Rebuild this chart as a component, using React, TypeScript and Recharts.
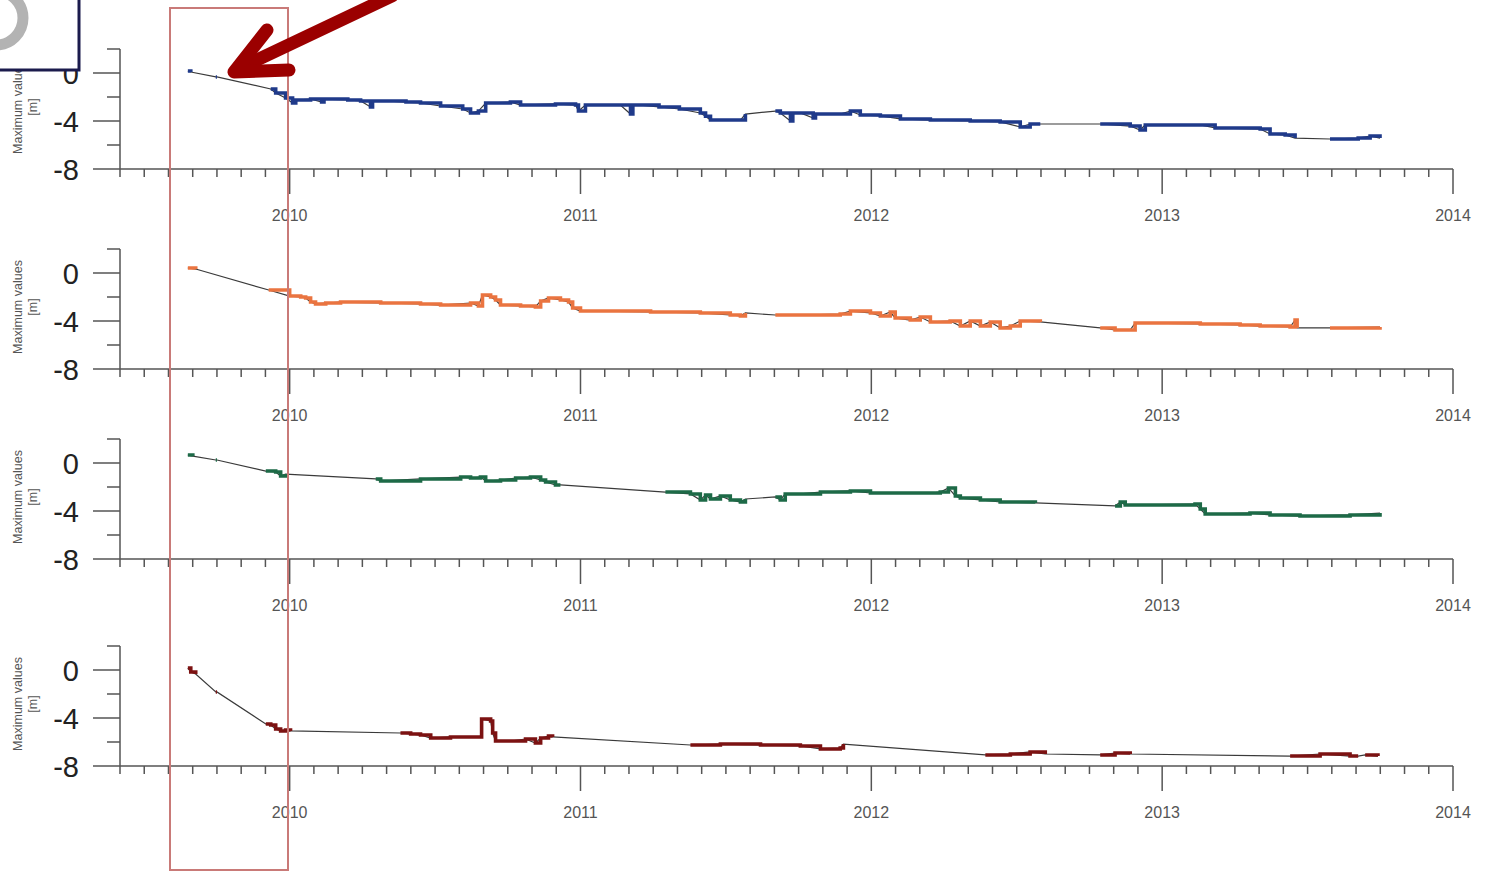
import React from 'react';
import { LineChart, Line, XAxis, YAxis } from 'recharts';

// decimal year, value [m]
const blueSegments: number[][][] = [
  [[2009.65, 0.17], [2009.66, 0.08]],
  [[2009.746, -0.33], [2009.75, -0.33]],
  [[2009.935, -1.33], [2009.952, -1.67], [2009.986, -2.08], [2010.01, -2.5], [2010.021, -2.25], [2010.072, -2.17], [2010.11, -2.42], [2010.118, -2.17], [2010.2, -2.25], [2010.244, -2.33], [2010.278, -2.83], [2010.285, -2.33], [2010.33, -2.33], [2010.4, -2.42], [2010.45, -2.5], [2010.519, -2.75], [2010.595, -3.0], [2010.622, -3.33], [2010.649, -3.17], [2010.674, -2.5], [2010.759, -2.42], [2010.794, -2.67], [2010.914, -2.58], [2010.983, -2.67], [2010.993, -3.17], [2011.017, -2.67], [2011.137, -2.67], [2011.172, -3.42], [2011.18, -2.67], [2011.206, -2.67], [2011.27, -2.83], [2011.34, -3.0], [2011.412, -3.33], [2011.43, -3.6], [2011.447, -3.92], [2011.55, -3.92], [2011.567, -3.42]],
  [[2011.67, -3.17], [2011.687, -3.33], [2011.722, -4.0], [2011.73, -3.33], [2011.756, -3.33], [2011.8, -3.75], [2011.808, -3.42], [2011.893, -3.42], [2011.928, -3.17], [2011.962, -3.5], [2012.031, -3.58], [2012.1, -3.83], [2012.203, -3.92], [2012.34, -4.0], [2012.443, -4.08], [2012.512, -4.5], [2012.546, -4.25], [2012.581, -4.25]],
  [[2012.787, -4.25], [2012.89, -4.42], [2012.924, -4.75], [2012.942, -4.33], [2013.131, -4.33], [2013.182, -4.58], [2013.337, -4.67], [2013.371, -5.08], [2013.423, -5.17], [2013.457, -5.42]],
  [[2013.577, -5.5], [2013.674, -5.42], [2013.715, -5.25], [2013.749, -5.42]],
];

const orangeSegments: number[][][] = [
  [[2009.65, 0.42], [2009.677, 0.33]],
  [[2009.928, -1.42], [2010.0, -1.92], [2010.038, -2.0], [2010.055, -2.08], [2010.072, -2.42], [2010.089, -2.58], [2010.124, -2.5], [2010.175, -2.42], [2010.313, -2.5], [2010.45, -2.58], [2010.519, -2.67], [2010.622, -2.5], [2010.649, -2.75], [2010.663, -1.83], [2010.691, -2.0], [2010.708, -2.25], [2010.725, -2.67], [2010.794, -2.75], [2010.845, -2.83], [2010.863, -2.33], [2010.89, -2.08], [2010.931, -2.25], [2010.959, -2.42], [2010.973, -2.92], [2011.0, -3.17], [2011.069, -3.17], [2011.241, -3.25], [2011.412, -3.33], [2011.515, -3.5], [2011.55, -3.58], [2011.567, -3.33]],
  [[2011.67, -3.5], [2011.756, -3.5], [2011.893, -3.42], [2011.928, -3.17], [2011.997, -3.33], [2012.031, -3.58], [2012.065, -3.25], [2012.082, -3.75], [2012.134, -3.92], [2012.168, -3.67], [2012.203, -4.08], [2012.271, -4.0], [2012.306, -4.42], [2012.34, -4.0], [2012.375, -4.42], [2012.409, -4.08], [2012.443, -4.58], [2012.478, -4.42], [2012.512, -4.0], [2012.581, -4.08]],
  [[2012.787, -4.58], [2012.838, -4.75], [2012.89, -4.75], [2012.907, -4.17], [2012.959, -4.17], [2013.131, -4.25], [2013.268, -4.33], [2013.337, -4.42], [2013.44, -4.5], [2013.457, -3.92], [2013.464, -4.58]],
  [[2013.577, -4.58], [2013.749, -4.5]],
];

const greenSegments: number[][][] = [
  [[2009.65, 0.67], [2009.667, 0.58]],
  [[2009.746, 0.25], [2009.75, 0.25]],
  [[2009.918, -0.67], [2009.952, -0.75], [2009.969, -1.08], [2009.986, -0.92]],
  [[2010.296, -1.33], [2010.313, -1.5], [2010.45, -1.33], [2010.588, -1.17], [2010.622, -1.25], [2010.656, -1.17], [2010.674, -1.5], [2010.725, -1.42], [2010.777, -1.25], [2010.828, -1.17], [2010.863, -1.42], [2010.88, -1.58], [2010.914, -1.83], [2010.931, -1.83]],
  [[2011.292, -2.42], [2011.378, -2.58], [2011.412, -3.08], [2011.43, -2.67], [2011.447, -3.0], [2011.481, -2.75], [2011.515, -3.08], [2011.55, -3.25], [2011.567, -3.0]],
  [[2011.67, -2.83], [2011.687, -3.08], [2011.704, -2.58], [2011.756, -2.58], [2011.825, -2.42], [2011.928, -2.33], [2011.997, -2.5], [2012.1, -2.5], [2012.203, -2.5], [2012.237, -2.42], [2012.265, -2.08], [2012.289, -2.75], [2012.306, -2.92], [2012.375, -3.08], [2012.443, -3.25], [2012.564, -3.33]],
  [[2012.838, -3.58], [2012.856, -3.25], [2012.873, -3.5], [2013.113, -3.42], [2013.131, -3.83], [2013.148, -4.25], [2013.302, -4.17], [2013.371, -4.33], [2013.474, -4.42], [2013.646, -4.33], [2013.749, -4.17]],
];

const redSegments: number[][][] = [
  [[2009.65, 0.17], [2009.66, -0.17], [2009.677, -0.33]],
  [[2009.746, -1.83], [2009.75, -1.83]],
  [[2009.918, -4.5], [2009.935, -4.58], [2009.952, -4.92], [2009.969, -5.08], [2009.986, -5.0], [2010.003, -5.08]],
  [[2010.381, -5.25], [2010.416, -5.33], [2010.45, -5.42], [2010.485, -5.67], [2010.553, -5.58], [2010.656, -5.58], [2010.66, -4.08], [2010.691, -4.25], [2010.698, -5.25], [2010.708, -5.92], [2010.759, -5.92], [2010.811, -5.75], [2010.845, -6.08], [2010.863, -5.67], [2010.89, -5.5], [2010.904, -5.58]],
  [[2011.378, -6.25], [2011.481, -6.17], [2011.619, -6.25], [2011.756, -6.33], [2011.825, -6.58], [2011.893, -6.5], [2011.904, -6.17]],
  [[2012.392, -7.08], [2012.478, -7.0], [2012.546, -6.83], [2012.598, -7.0]],
  [[2012.787, -7.08], [2012.838, -6.92], [2012.89, -7.0]],
  [[2013.44, -7.17], [2013.543, -7.0], [2013.646, -7.17], [2013.674, -7.17]],
  [[2013.698, -7.08], [2013.742, -7.17]],
];

const yearTicks = [2010, 2011, 2012, 2013, 2014];
const valueTicks = [2, 0, -2, -4, -6, -8];
const labelledValues = [0, -4, -8];
const monthTicks = Array.from({ length: 56 }, (_, i) => 2009 + (5 + i) / 12);

const FONT = '"Liberation Sans", Arial, sans-serif';

function buildRows(segments: number[][][]) {
  const rows: any[] = [];
  segments.forEach((seg, i) => {
    if (i > 0) {
      const prev = rows[rows.length - 1];
      rows.push({ t: (prev.t + seg[0][0]) / 2, mark: null });
    }
    seg.forEach(([t, v]) => rows.push({ t, line: v, mark: v }));
  });
  return rows;
}

const XTick = ({ x, y, payload }: any) => {
  const v = payload.value;
  const isYear = yearTicks.some((yr) => Math.abs(yr - v) < 0.001);
  return (
    <g>
      <line x1={x} x2={x} y1={y} y2={y + (isYear ? 25 : 8)} stroke="#555" strokeWidth={1.5} />
      {isYear && (
        <text x={x} y={y + 46} textAnchor="middle" dominantBaseline="central" fontSize={16} fill="#555" fontFamily={FONT}>
          {Math.round(v)}
        </text>
      )}
    </g>
  );
};

const YTick = ({ x, y, payload }: any) => {
  const v = payload.value;
  const major = labelledValues.includes(v);
  return (
    <g>
      <line x1={x - (major ? 27 : 13)} x2={x} y1={y} y2={y} stroke="#555" strokeWidth={1.5} />
      {major && (
        <text x={x - 41} y={y + 1} textAnchor="end" dominantBaseline="central" fontSize={29} fill="#222" fontFamily={FONT}>
          {v}
        </text>
      )}
    </g>
  );
};

const YLabel = ({ viewBox }: any) => {
  const cy = viewBox.y + viewBox.height / 2 - 2;
  return (
    <g fontFamily={FONT} fontSize={12.5} fill="#555">
      <text x={18} y={cy} transform={`rotate(-90 18 ${cy})`} textAnchor="middle" dominantBaseline="central">
        Maximum values
      </text>
      <text x={33} y={cy} transform={`rotate(-90 33 ${cy})`} textAnchor="middle" dominantBaseline="central">
        [m]
      </text>
    </g>
  );
};

const panels = [
  { top: 39, color: '#1f3a8a', segments: blueSegments },
  { top: 239, color: '#ea7440', segments: orangeSegments },
  { top: 429, color: '#1d6a47', segments: greenSegments },
  { top: 636, color: '#7c1212', segments: redSegments },
];

function Panel({ top, color, segments }: { top: number; color: string; segments: number[][][] }) {
  const rows = buildRows(segments);
  return (
    <div style={{ position: 'absolute', left: 0, top }}>
      <LineChart width={1491} height={190} data={rows} margin={{ top: 10, right: 38, bottom: 0, left: 0 }}>
        <XAxis
          dataKey="t"
          type="number"
          domain={[2009 + 5 / 12, 2014]}
          ticks={monthTicks}
          interval={0}
          height={60}
          tickLine={false}
          tickSize={0}
          tickMargin={0}
          tick={<XTick />}
          axisLine={{ stroke: '#555', strokeWidth: 1.5 }}
          allowDataOverflow
        />
        <YAxis
          type="number"
          domain={[-8, 2]}
          ticks={valueTicks}
          interval={0}
          width={120}
          tickLine={false}
          tickSize={0}
          tickMargin={0}
          tick={<YTick />}
          axisLine={{ stroke: '#555', strokeWidth: 1.5 }}
          label={{ content: (p: any) => <YLabel viewBox={p.viewBox} /> }}
        />
        <Line dataKey="line" type="linear" stroke="#3a3a3a" strokeWidth={1.2} dot={false} connectNulls isAnimationActive={false} />
        <Line dataKey="mark" type="stepAfter" stroke={color} strokeWidth={3.6} dot={false} connectNulls={false} isAnimationActive={false} />
      </LineChart>
    </div>
  );
}

export default function App() {
  return (
    <div style={{ position: 'absolute', left: 0, top: 0, width: 1491, height: 872, background: '#fff', overflow: 'hidden' }}>
      {panels.map((p, i) => (
        <Panel key={i} {...p} />
      ))}
      <svg width={1491} height={872} style={{ position: 'absolute', left: 0, top: 0, pointerEvents: 'none' }}>
        <defs>
          <clipPath id="boxClip">
            <rect x={0} y={0} width={78} height={69} />
          </clipPath>
        </defs>
        <rect x={170} y={8} width={118} height={862} fill="none" stroke="#c97a78" strokeWidth={2} />
        <rect x={-3} y={-3} width={82} height={73} fill="#fff" stroke="#1b1b4d" strokeWidth={3} />
        <circle cx={-4} cy={18} r={27} fill="none" stroke="#b3b3b3" strokeWidth={11} clipPath="url(#boxClip)" />
        <line x1={240} y1={68} x2={392} y2={-4} stroke="#9b0000" strokeWidth={13} strokeLinecap="round" />
        <polyline points="267,30 234,72 289,70" fill="none" stroke="#9b0000" strokeWidth={13} strokeLinecap="round" strokeLinejoin="round" />
      </svg>
    </div>
  );
}
